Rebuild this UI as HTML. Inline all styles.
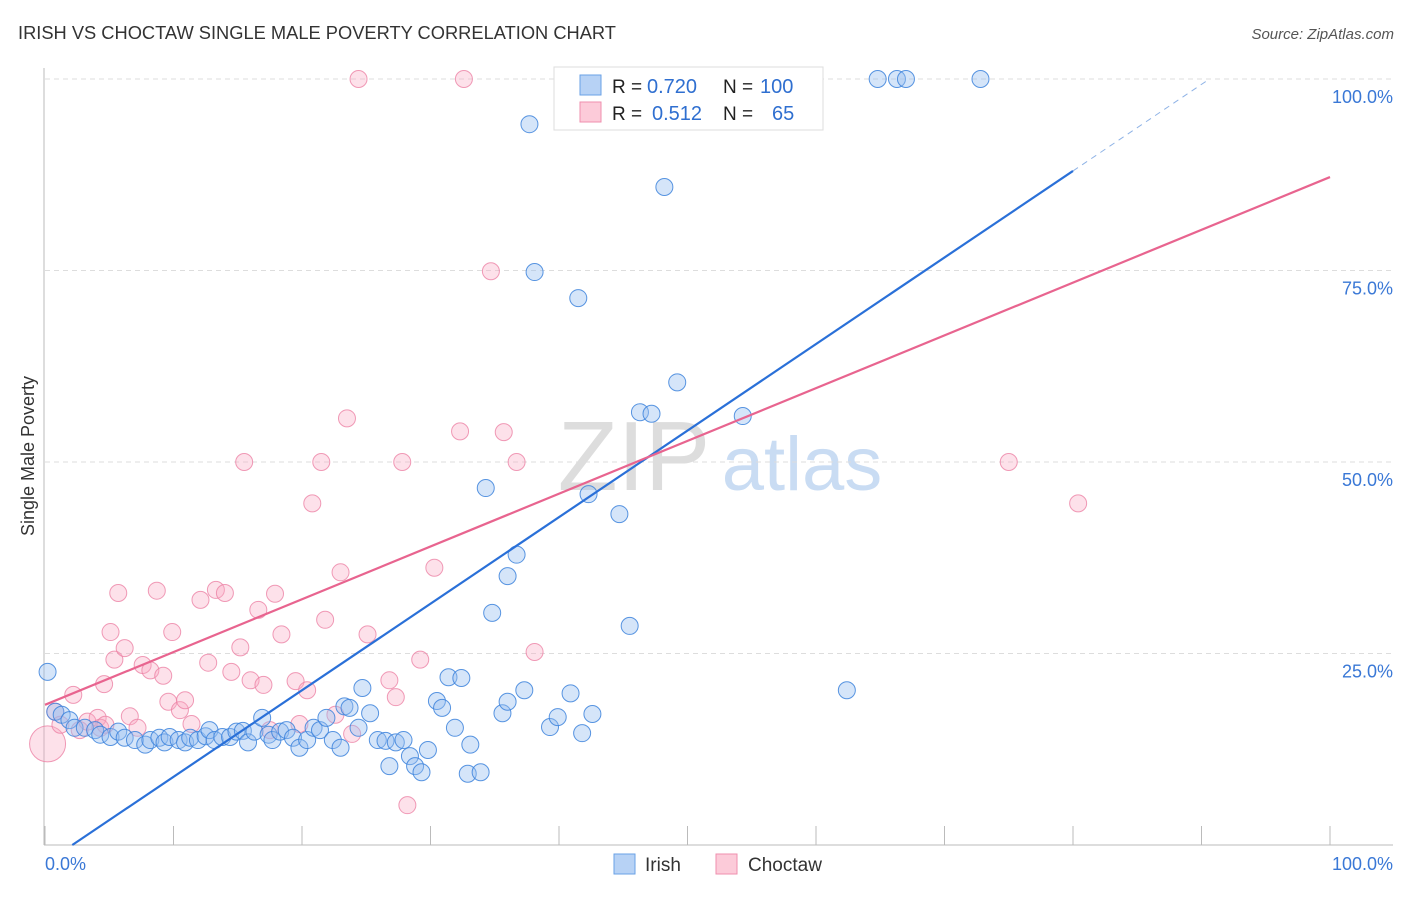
<!DOCTYPE html>
<html><head><meta charset="utf-8"><style>
body{margin:0;background:#fff;font-family:"Liberation Sans",sans-serif;}
svg text{font-family:"Liberation Sans",sans-serif;}
</style></head><body>
<svg id="chart" width="1406" height="892" viewBox="0 0 1406 892" xmlns="http://www.w3.org/2000/svg">
<text x="18" y="39" font-size="18.3" fill="#333">IRISH VS CHOCTAW SINGLE MALE POVERTY CORRELATION CHART</text>
<text x="1394" y="39" font-size="15" fill="#555" font-style="italic" text-anchor="end">Source: ZipAtlas.com</text>
<g>
<text x="634" y="490" font-size="98" fill="#ddd" font-family="Liberation Serif" text-anchor="middle">ZIP</text>
<text x="802" y="490" font-size="76" fill="#c9dcf3" text-anchor="middle">atlas</text>
</g>
<g id="grid"></g><g id="axes"></g><g id="pts"></g><g id="lines"></g>
<text transform="translate(34,456) rotate(-90)" font-size="18" fill="#333" text-anchor="middle">Single Male Poverty</text>
<g>
<rect x="554" y="67" width="269" height="63" fill="#fff" stroke="#ddd"/>
<rect x="580" y="75" width="21" height="20" fill="#b7d2f5" stroke="#6aa1e6"/>
<rect x="580" y="102" width="21" height="20" fill="#fccbd9" stroke="#ef8fae"/>
<text x="612" y="93" font-size="19" fill="#222">R = </text><text x="647" y="93" font-size="20" fill="#2f6fd0">0.720</text>
<text x="723" y="93" font-size="19" fill="#222">N = </text><text x="760" y="93" font-size="20" fill="#2f6fd0">100</text>
<text x="612" y="120" font-size="19" fill="#222">R = </text><text x="652" y="120" font-size="20" fill="#2f6fd0">0.512</text>
<text x="723" y="120" font-size="19" fill="#222">N = </text><text x="772" y="120" font-size="20" fill="#2f6fd0">65</text>
</g>
<g>
<rect x="614" y="854" width="21" height="20" fill="#b7d2f5" stroke="#6aa1e6"/>
<text x="645" y="871" font-size="19" fill="#333">Irish</text>
<rect x="716" y="854" width="21" height="20" fill="#fccbd9" stroke="#ef8fae"/>
<text x="748" y="871" font-size="19" fill="#333">Choctaw</text>
</g>
</svg>
<script>
const yTicks=[25,50,75,100];
const yTickLabels=["25.0%","50.0%","75.0%","100.0%"];
const xTicks=[0,10,20,30,40,50,60,70,80,90,100];
const irishX=[0.2,0.8,1.3,1.9,2.3,3.1,3.9,4.3,5.1,5.7,6.2,7.0,7.8,8.2,8.9,9.3,9.7,10.4,10.9,11.3,11.9,12.5,12.8,13.2,13.8,14.4,14.9,15.4,15.8,16.3,16.9,17.4,17.7,18.3,18.8,19.3,19.8,20.4,20.9,21.4,21.9,22.4,23.0,23.3,23.7,24.4,24.7,25.3,25.9,26.5,26.8,27.3,27.9,28.4,28.8,29.3,29.8,30.5,30.9,31.4,31.9,32.4,33.1,32.9,33.9,34.3,34.8,35.6,36.0,36.7,37.3,36.0,37.7,38.1,39.3,39.9,40.9,41.5,41.8,42.3,42.6,44.7,45.5,46.3,47.2,48.2,49.2,54.3,62.4,64.8,66.3,67.0,72.8,43.2,51.0,54.1];
const irishY=[22.6,17.4,17.0,16.3,15.3,15.3,15.0,14.4,14.1,14.8,14.0,13.7,13.1,13.7,14.0,13.4,14.1,13.7,13.4,14.0,13.7,14.2,15.0,13.7,14.1,14.1,14.8,14.9,13.4,14.8,16.6,14.4,13.7,14.8,15.0,14.0,12.7,13.7,15.3,15.0,16.6,13.7,12.7,18.1,17.9,15.3,20.5,17.2,13.7,13.6,10.3,13.4,13.7,11.6,10.3,9.5,12.4,18.8,17.9,21.9,15.3,21.8,13.1,9.3,9.5,46.6,30.3,17.2,18.7,37.9,20.2,35.1,94.1,74.8,15.4,16.7,19.8,71.4,14.6,45.8,17.1,43.2,28.6,56.5,56.3,85.9,60.4,56.0,20.2,100,100,100,100,100,100,100];
const choctawX=[0.2,0.8,1.2,2.2,2.7,3.3,4.1,4.6,5.1,5.4,5.7,6.2,6.6,7.2,7.6,8.2,8.7,9.2,9.6,9.9,10.5,10.9,11.4,12.1,12.7,13.3,14.0,14.5,15.2,15.5,16.0,16.6,17.0,17.5,17.9,18.4,19.5,19.8,20.4,20.8,21.5,21.8,22.6,23.0,23.5,23.9,24.4,25.1,26.8,27.3,27.8,28.2,29.2,30.3,32.3,32.6,34.7,35.7,36.7,38.1,45.5,75.0,80.4,4.3,4.7];
const choctawY=[13.2,17.4,15.7,19.6,15.0,16.1,16.6,21.0,27.8,24.2,32.9,25.7,16.8,15.3,23.5,22.8,33.2,22.1,18.7,27.8,17.6,18.9,15.8,32.0,23.8,33.3,32.9,22.6,25.8,50.0,21.5,30.7,20.9,15.0,32.8,27.5,21.4,15.8,20.2,44.6,50.0,29.4,17.0,35.6,55.7,14.5,100,27.5,21.5,19.3,50.0,5.2,24.2,36.2,54.0,100,74.9,53.9,50.0,25.2,100,50.0,44.6,15.3,15.7];
const irishFit=[-2.4,1.13];
const choctawFit=[18.3,0.689];
const X=v=>45+v*12.85, Y=v=>845-v*7.66;
const NS="http://www.w3.org/2000/svg";
function mk(tag,attrs,parent){const e=document.createElementNS(NS,tag);for(const k in attrs)e.setAttribute(k,attrs[k]);document.getElementById(parent).appendChild(e);return e;}
yTicks.forEach((t,i)=>{
 const g=mk('line',{x1:45,x2:1393,y1:Y(t),y2:Y(t),stroke:'#ddd','stroke-dasharray':'5,4'},'grid');
 
 
 const l=mk('text',{x:1393,y:Y(t)+24,'font-size':18,fill:'#3a78d6','text-anchor':'end'},'axes');
 l.textContent=yTickLabels[i];
 
 
});
const ax=mk('line',{x1:44,x2:44,y1:68,y2:845,stroke:'#bbb'},'axes');


const bx=mk('line',{x1:44,x2:1393,y1:845,y2:845,stroke:'#bbb'},'axes');


xTicks.forEach(t=>{
 const tk=mk('line',{x1:X(t),x2:X(t),y1:826,y2:845,stroke:'#bbb'},'axes');
 
 
});
const x0=mk('text',{x:45,y:870,'font-size':18,fill:'#3a78d6'},'axes');x0.textContent='0.0%';


const x1=mk('text',{x:1393,y:870,'font-size':18,fill:'#3a78d6','text-anchor':'end'},'axes');x1.textContent='100.0%';


choctawX.forEach((v,i)=>{
 const c=mk('circle',{cx:X(v),cy:Y(choctawY[i]),r:i===0?18:8.5,fill:'rgba(248,170,195,0.35)',stroke:'rgba(236,130,165,0.8)','stroke-width':1},'pts');
 
 
});
irishX.forEach((v,i)=>{
 const c=mk('circle',{cx:X(v),cy:Y(irishY[i]),r:8.5,fill:'rgba(150,190,240,0.4)',stroke:'rgba(60,130,220,0.85)','stroke-width':1},'pts');
 
 
});
const ix0=(0-irishFit[0])/irishFit[1], ix1=80, ix2=(100-irishFit[0])/irishFit[1];
const l1=mk('line',{x1:X(ix0),y1:Y(0),x2:X(ix1),y2:Y(irishFit[0]+irishFit[1]*ix1),stroke:'#2a70d8','stroke-width':2.2},'lines');


const l2=mk('line',{x1:X(ix1),y1:Y(irishFit[0]+irishFit[1]*ix1),x2:X(ix2),y2:Y(100),stroke:'#8fb3e6','stroke-width':1,'stroke-dasharray':'6,5'},'lines');


const l3=mk('line',{x1:X(0),y1:Y(choctawFit[0]),x2:X(100),y2:Y(choctawFit[0]+choctawFit[1]*100),stroke:'#e8648f','stroke-width':2.2},'lines');


</script>
</body></html>
